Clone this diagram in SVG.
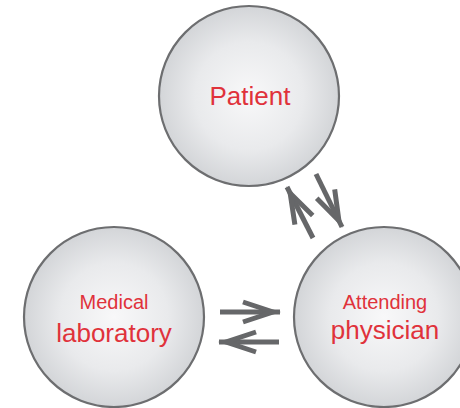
<svg xmlns="http://www.w3.org/2000/svg" width="460" height="408" viewBox="0 0 460 408">
<defs>
<radialGradient id="g" cx="50%" cy="50%" r="50%">
<stop offset="0" stop-color="#f8f8f9"/>
<stop offset="0.6" stop-color="#e9eaec"/>
<stop offset="1" stop-color="#d3d5d8"/>
</radialGradient>
<marker id="ah" markerUnits="userSpaceOnUse" markerWidth="50" markerHeight="30" viewBox="0 0 50 30" refX="40" refY="15" orient="auto" overflow="visible">
<path d="M3,5 L33,15 L3,25" fill="none" stroke="#666769" stroke-width="5" stroke-linejoin="miter"/>
</marker>
<style>
.node{fill:url(#g);stroke:#6d6e70;stroke-width:2.2}
.lbl{font-family:"Liberation Sans",Arial,sans-serif;fill:#e0323b;text-anchor:middle}
.conn{stroke:#666769;stroke-width:5;fill:none;marker-end:url(#ah)}
</style>
</defs>
<g id="patient">
<circle class="node" cx="249" cy="96" r="90"/>
<text class="lbl" x="250" y="105" font-size="26">Patient</text>
</g>
<g id="medical-laboratory">
<circle class="node" cx="114" cy="317" r="90"/>
<text class="lbl" x="114" y="309" font-size="20">Medical</text>
<text class="lbl" x="114" y="342" font-size="26">laboratory</text>
</g>
<g id="attending-physician">
<circle class="node" cx="384" cy="317" r="90"/>
<text class="lbl" x="385" y="309" font-size="20">Attending</text>
<text class="lbl" x="385" y="339" font-size="26">physician</text>
</g>
<g id="connectors">
<path class="conn" d="M220,312 L280,312"/>
<path class="conn" d="M279,342 L219,342"/>
<path class="conn" d="M313,238 L287,187"/>
<path class="conn" d="M316,174 L342,227"/>
</g>
</svg>
